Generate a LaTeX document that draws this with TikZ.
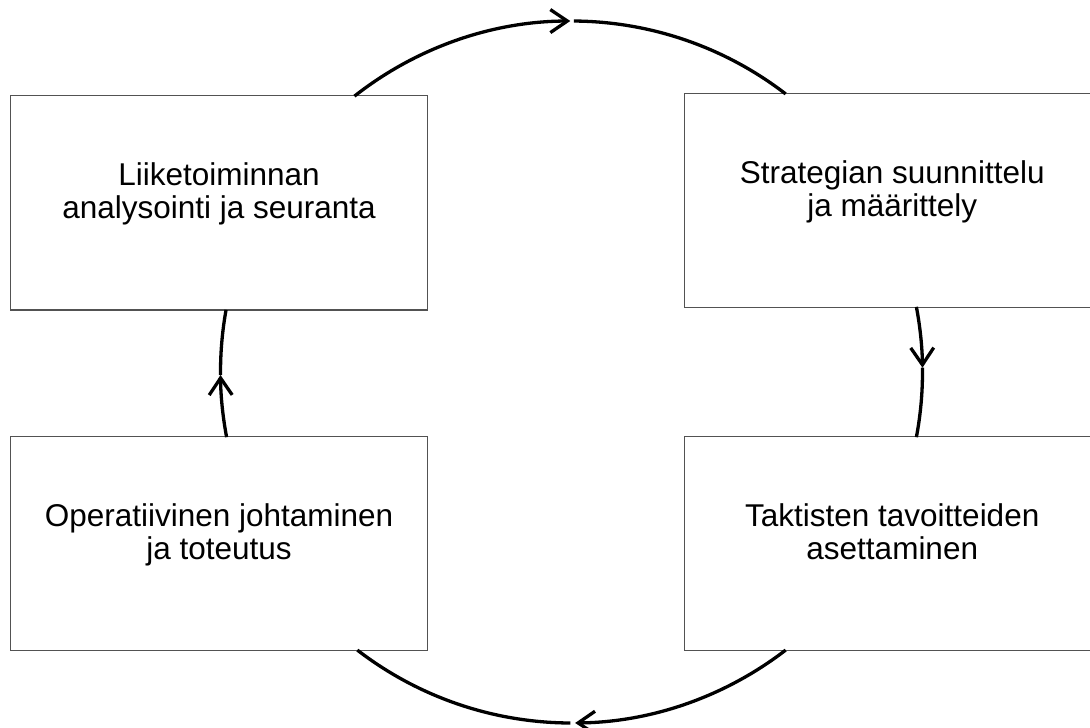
\documentclass[tikz,border=0pt]{standalone}
\usepackage{fontspec}
\setmainfont{Liberation Sans}
\usetikzlibrary{arrows.meta}
\begin{document}
\begin{tikzpicture}[x=1pt,y=-1pt,
  phase/.style={draw=black!68, line width=1.4pt, fill=white, inner sep=0pt},
  phasetext/.style={align=center, inner sep=0pt, yshift=7.6pt,
    font=\fontsize{31.5}{33}\selectfont},
  cycle/.style={line width=3.3pt},
  tip/.style={-{Straight Barb[length=17pt,width=23pt,line width=3.3pt]}}]
\useasboundingbox (0,0) rectangle (1090,728);
\clip (0,0) rectangle (1090,728);
\fill[white] (0,0) rectangle (1090,728);

% phase boxes (the right-hand pair runs past the right margin)
\node[phase, minimum width=416.5pt, minimum height=214.5pt] (analysis) at (219,202.75) {};
\node[phase, minimum width=415.5pt, minimum height=213.5pt] (strategy) at (892.25,200.5) {};
\node[phase, minimum width=416.5pt, minimum height=213.5pt] (operations) at (219,543.5) {};
\node[phase, minimum width=415.5pt, minimum height=213.5pt] (tactics) at (892.25,543.5) {};

\node[phasetext] (analysis-text) at (analysis.center)
  {Liiketoiminnan\strut\\analysointi ja seuranta\strut};
\node[phasetext] (strategy-text) at (strategy.center)
  {Strategian suunnittelu\strut\\ja määrittely\strut};
\node[phasetext] (operations-text) at (operations.center)
  {Operatiivinen johtaminen\strut\\ja toteutus\strut};
\node[phasetext] (tactics-text) at (tactics.center)
  {Taktisten tavoitteiden\strut\\asettaminen\strut};

% centre of the cycle
\coordinate (c) at (571.5,372);
\def\R{351}

% analysis -> strategy (over the top)
\draw[cycle, tip] ([shift={(-128.2:\R)}]c) arc[start angle=-128.2, end angle=-90.2, radius=\R];
\draw[cycle] ([shift={(-89.6:\R)}]c) arc[start angle=-89.6, end angle=-52.4, radius=\R];
% strategy -> tactics (right side)
\draw[cycle, tip] ([shift={(-10.7:\R)}]c) arc[start angle=-10.7, end angle=-0.7, radius=\R];
\draw[cycle] ([shift={(-0.7:\R)}]c) arc[start angle=-0.7, end angle=10.7, radius=\R];
% tactics -> operations (under the bottom)
\draw[cycle, tip] ([shift={(52.4:\R)}]c) arc[start angle=52.4, end angle=89.4, radius=\R];
\draw[cycle] ([shift={(90.2:\R)}]c) arc[start angle=90.2, end angle=127.6, radius=\R];
% operations -> analysis (left side)
\draw[cycle, tip] ([shift={(169.3:\R)}]c) arc[start angle=169.3, end angle=179.5, radius=\R];
\draw[cycle] ([shift={(179.5:\R)}]c) arc[start angle=179.5, end angle=190.2, radius=\R];
\end{tikzpicture}
\end{document}
